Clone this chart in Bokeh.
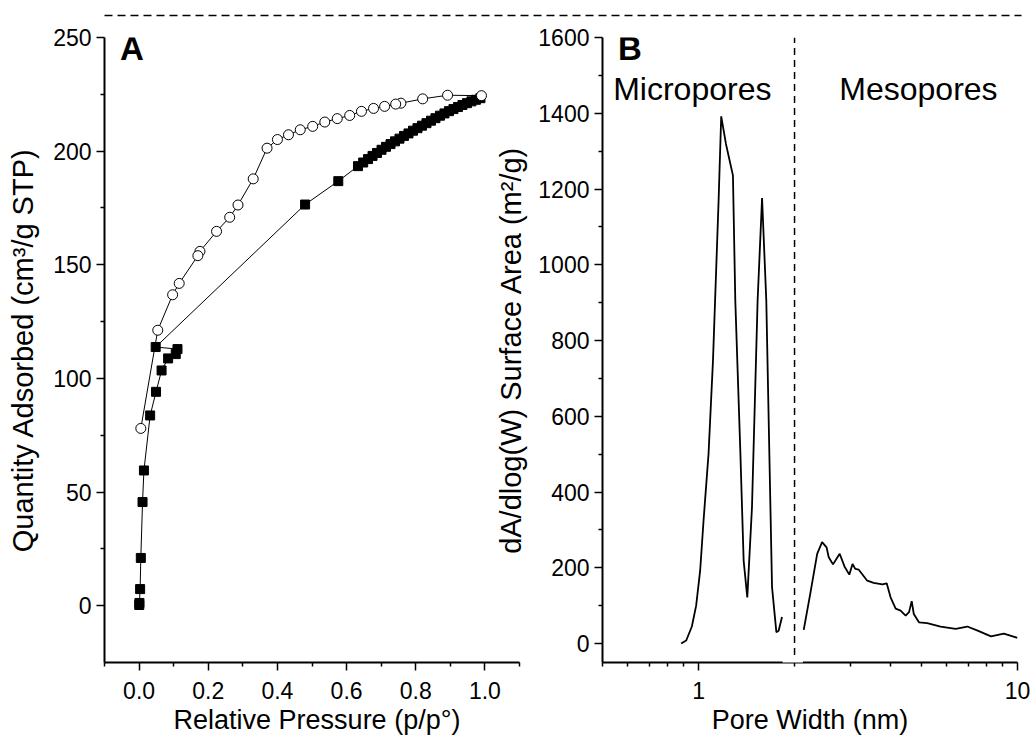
import math
from bokeh.plotting import figure
from bokeh.layouts import column, row
from bokeh.models import FixedTicker, PrintfTickFormatter, Label, BoxAnnotation
from bokeh.embed import file_html
from bokeh.resources import INLINE

FONT = "Liberation Sans"

# ---------------- Panel A: N2 isotherm ----------------
ads_p = [0.0005, 0.001, 0.003, 0.005, 0.010, 0.014, 0.032, 0.049, 0.065, 0.084, 0.106, 0.111, 0.048,
         0.480, 0.576,
         0.633, 0.648, 0.662, 0.675, 0.688, 0.701, 0.714, 0.727, 0.740, 0.753, 0.766, 0.779, 0.792, 0.805,
         0.818, 0.831, 0.844, 0.857, 0.870, 0.883, 0.896, 0.909, 0.922, 0.935, 0.948, 0.961, 0.974, 0.987]
ads_q = [0.3, 1.2, 7.3, 21.0, 45.6, 59.5, 83.7, 94.1, 103.5, 108.8, 110.7, 112.9, 113.8,
         176.5, 186.8,
         193.4, 195.0, 196.5, 197.9, 199.2, 200.6, 201.9, 203.1, 204.3, 205.5, 206.7, 207.8, 209.0, 210.1,
         211.2, 212.3, 213.4, 214.5, 215.6, 216.6, 217.6, 218.5, 219.4, 220.3, 221.1, 221.9, 222.6, 223.3]

des_p = [0.990, 0.892, 0.820, 0.757, 0.742, 0.710, 0.678, 0.643, 0.609, 0.573, 0.537, 0.502, 0.466,
         0.432, 0.400, 0.370, 0.330, 0.286, 0.262, 0.224, 0.176, 0.170, 0.116, 0.097, 0.054, 0.005]
des_q = [224.4, 224.6, 223.0, 221.1, 220.7, 219.7, 218.8, 217.5, 215.7, 214.3, 212.8, 210.9, 209.4,
         207.2, 205.1, 201.3, 187.8, 176.3, 170.9, 164.7, 155.9, 154.0, 141.8, 136.8, 121.2, 78.0]

a_xticks = [0.0, 0.2, 0.4, 0.6, 0.8, 1.0]
a_xminor = [-0.1, 0.1, 0.3, 0.5, 0.7, 0.9, 1.1]
a_yticks = [0, 50, 100, 150, 200, 250]
a_yminor = [25, 75, 125, 175, 225]

# ---------------- Panel B: pore size distribution ----------------
micro_w = [0.882, 0.915, 0.953, 0.983, 1.012, 1.037, 1.075, 1.110, 1.156, 1.178, 1.219, 1.282,
           1.304, 1.352, 1.385, 1.422, 1.471, 1.532, 1.582, 1.631, 1.700, 1.754, 1.783, 1.827]
micro_a = [0, 8, 45, 100, 193, 325, 501, 747, 1170, 1392, 1319, 1236,
           906, 510, 219, 122, 360, 906, 1176, 906, 149, 30, 34, 70]

meso_w = [2.137, 2.24, 2.355, 2.44, 2.52, 2.56, 2.64, 2.77, 2.87, 2.97, 3.04, 3.10, 3.18, 3.38,
          3.54, 3.77, 3.89, 4.00, 4.15, 4.30, 4.46, 4.57, 4.66, 4.73, 4.91, 5.21, 5.74, 6.40,
          6.96, 7.5, 8.26, 9.06, 10.0]
meso_a = [36, 131, 237, 268, 254, 228, 209, 237, 203, 182, 210, 197, 195, 166,
          160, 156, 159, 122, 92, 87, 74, 83, 112, 78, 56, 54, 45, 39,
          45, 34, 19, 26, 15]

b_xticks = [1, 10]
b_xminor = [0.5, 0.6, 0.7, 0.8, 0.9, 2, 3, 4, 5, 6, 7, 8, 9]
b_yticks = [0, 200, 400, 600, 800, 1000, 1200, 1400, 1600]
b_yminor = [100, 300, 500, 700, 900, 1100, 1300, 1500]
boundary_w = 2.0


def style_axis(ax, vertical):
    ax.axis_line_width = 2
    ax.axis_line_color = "black"
    ax.major_tick_line_width = 1.5
    ax.minor_tick_line_width = 1.5
    ax.major_tick_in = 0
    ax.major_tick_out = 8
    ax.minor_tick_in = 0
    ax.minor_tick_out = 4
    ax.major_label_text_font = FONT
    ax.major_label_text_font_size = "23px"
    ax.major_label_text_color = "black"
    ax.axis_label_text_font = FONT
    ax.axis_label_text_font_style = "normal"
    ax.axis_label_text_color = "black"
    if vertical:
        ax.major_label_standoff = 5
        ax.axis_label_standoff = 11
        ax.axis_label_text_font_size = "29px"
    else:
        ax.major_label_standoff = 11
        ax.axis_label_standoff = 3
        ax.axis_label_text_font_size = "27px"


# top dashed rule
top = figure(width=1030, height=22, x_range=(0, 1030), y_range=(0, 22),
             x_axis_type=None, y_axis_type=None, toolbar_location=None,
             output_backend="svg", min_border=0, outline_line_color=None)
top.segment(x0=[104], y0=[7], x1=[1021], y1=[7], line_dash="8 5", line_width=1.5, color="black")

# Panel A (frame runs to the canvas edge so the neighbouring title fits; axis line bounded at 1.1)
pA = figure(width=529, height=723, x_range=(-0.1, 1.1289), y_range=(-25, 250),
            output_backend="svg", toolbar_location=None,
            min_border_left=104, min_border_right=0, min_border_top=15, min_border_bottom=83)
pA.grid.visible = False
pA.outline_line_color = None
pA.line(ads_p, ads_q, color="black", line_width=1)
pA.scatter(ads_p, ads_q, marker="square", size=9, fill_color="black", line_color="black")
pA.line(des_p, des_q, color="black", line_width=1)
pA.scatter(des_p, des_q, marker="circle", size=10, fill_color="white", line_color="black", line_width=1)
pA.xaxis.ticker = FixedTicker(ticks=a_xticks, minor_ticks=a_xminor)
pA.xaxis.formatter = PrintfTickFormatter(format="%.1f")
pA.xaxis.bounds = (-0.1, 1.1)
pA.yaxis.ticker = FixedTicker(ticks=a_yticks, minor_ticks=a_yminor)
pA.xaxis.axis_label = "Relative Pressure (p/p°)"
pA.yaxis.axis_label = "Quantity Adsorbed (cm³/g STP)"
style_axis(pA.xaxis[0], False)
style_axis(pA.yaxis[0], True)
pA.add_layout(Label(x=-0.055, y=245.1, text="A", text_font=FONT, text_font_style="bold",
                    text_font_size="33px", text_baseline="alphabetic", text_align="left",
                    text_color="black"))
# y-axis title of panel B sits in the gap between the panels
pA.add_layout(Label(x=1.074, y=112.5, text="dA/dlog(W) Surface Area (m²/g)", angle=math.pi / 2,
                    text_font=FONT, text_font_size="29px", text_align="center",
                    text_baseline="middle", text_color="black"))

# Panel B
pB = figure(width=501, height=723, x_range=(0.5, 10), y_range=(-50, 1600), x_axis_type="log",
            output_backend="svg", toolbar_location=None,
            min_border_left=73, min_border_right=13, min_border_top=15, min_border_bottom=83)
pB.grid.visible = False
pB.outline_line_color = None
pB.line(micro_w, micro_a, color="black", line_width=1.8)
pB.line(meso_w, meso_a, color="black", line_width=1.8)
pB.segment(x0=[boundary_w], y0=[-30], x1=[boundary_w], y1=[1600], line_dash="7 5",
           line_width=1.5, color="black")
pB.xaxis.ticker = FixedTicker(ticks=b_xticks, minor_ticks=b_xminor)
pB.xaxis.major_label_overrides = {1: "1", 10: "10"}
pB.yaxis.ticker = FixedTicker(ticks=b_yticks, minor_ticks=b_yminor)
pB.xaxis.axis_label = "Pore Width (nm)"
style_axis(pB.xaxis[0], False)
style_axis(pB.yaxis[0], True)
# axis break
pB.add_layout(BoxAnnotation(left=1.835, right=2.125, bottom=-58, top=-44,
                            fill_color="white", fill_alpha=1.0, line_color=None))
pB.add_layout(Label(x=0.559, y=1571, text="B", text_font=FONT, text_font_style="bold",
                    text_font_size="33px", text_baseline="alphabetic", text_align="left",
                    text_color="black"))
pB.add_layout(Label(x=0.540, y=1463, text="Micropores", text_font=FONT,
                    text_font_size="32px", text_baseline="alphabetic", text_align="left",
                    text_color="black"))
pB.add_layout(Label(x=2.763, y=1463, text="Mesopores", text_font=FONT,
                    text_font_size="32px", text_baseline="alphabetic", text_align="left",
                    text_color="black"))

layout = column(top, row(pA, pB))
open("out.html", "w").write(file_html(layout, INLINE))
